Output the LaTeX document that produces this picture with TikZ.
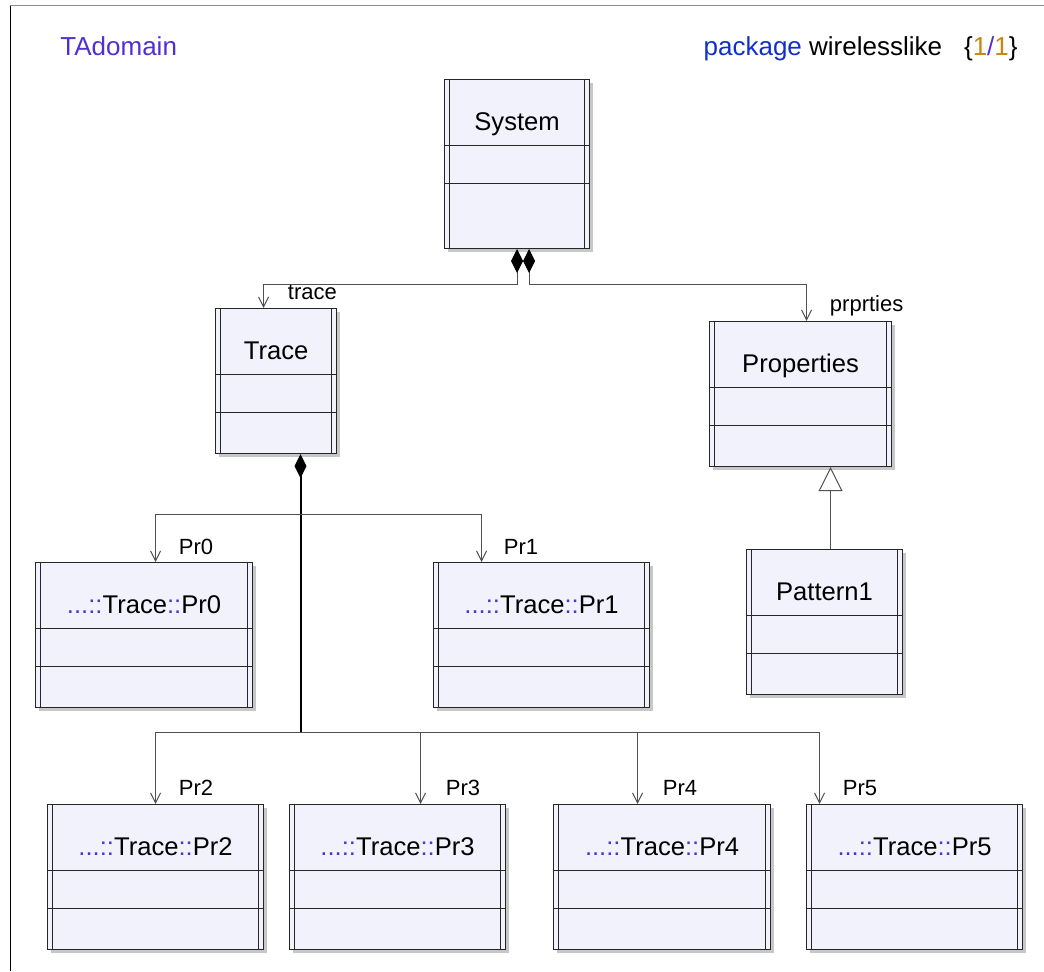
\documentclass[tikz,border=0pt]{standalone}
\usepackage{fontspec}
\setmainfont{Liberation Sans}
\usepackage{xcolor}
\usetikzlibrary{arrows.meta,shadows}

\definecolor{classfill}{RGB}{242,242,253}
\definecolor{nsblue}{RGB}{80,48,208}
\definecolor{kwblue}{RGB}{16,48,200}
\definecolor{pageorange}{RGB}{200,134,10}
\definecolor{linegray}{RGB}{80,80,80}

\begin{document}
\begin{tikzpicture}[>={Straight Barb[length=5pt,width=5pt]}]
 \tikzstyle{umlclass}=[draw=black!85, line width=0.55pt, fill=classfill, inner sep=0pt, anchor=north west,
   font=\fontsize{12.8}{15}\selectfont, text height=25.5pt, text depth=47pt,
   drop shadow={shadow xshift=1.5pt,shadow yshift=-1.5pt,fill=black!22,opacity=1},
   path picture={
     \draw[black!85, line width=0.55pt]
       ([xshift=2.5pt]path picture bounding box.north west) -- ([xshift=2.5pt]path picture bounding box.south west)
       ([xshift=-2.5pt]path picture bounding box.north east) -- ([xshift=-2.5pt]path picture bounding box.south east)
       ([yshift=-33pt]path picture bounding box.north west) -- ([yshift=-33pt]path picture bounding box.north east)
       ([yshift=-52pt]path picture bounding box.north west) -- ([yshift=-52pt]path picture bounding box.north east);
   }]
 \tikzstyle{assoc}=[draw=linegray, line width=0.5pt, ->]
 \tikzstyle{compose}=[assoc, {Diamond[length=12pt,width=6pt,color=black]}->]
 \tikzstyle{inherit}=[draw=linegray, line width=0.5pt, -{Triangle[open,length=12pt,width=12pt]}]
 \tikzstyle{rolename}=[inner sep=0pt, anchor=base west, font=\fontsize{11}{13}\selectfont]
 \newcommand{\nsp}{\textcolor{nsblue}{::}}

 \useasboundingbox (0,0) rectangle (522pt,-485.5pt);
 % page frame
 \draw[black!45, line width=0.6pt] (5pt,-2.8pt) -- (522pt,-2.8pt);
 \draw[black, line width=0.6pt] (5.3pt,-2.8pt) -- (5.3pt,-485.5pt);

 \node (domain) at (30pt,-27.5pt) [anchor=base west, inner sep=0pt, font=\fontsize{13}{15}\selectfont, text=nsblue] {TAdomain};
 \node (pkg) at (509pt,-27.5pt) [anchor=base east, inner sep=0pt, font=\fontsize{13}{15}\selectfont]
   {\textcolor{kwblue}{package} wirelesslike\hspace{11pt}\{\textcolor{pageorange}{1}\textcolor{nsblue}{/}\textcolor{pageorange}{1}\}};

 \node (sys) at (222pt,-39.5pt) [umlclass, minimum width=72.5pt, text depth=59pt] {System};
 \node (trace) at (107.5pt,-154pt) [umlclass, minimum width=60.5pt] {Trace};
 \node (props) at (354.5pt,-160.5pt) [umlclass, minimum width=91pt] {Properties};
 \node (pat) at (373pt,-274.5pt) [umlclass, minimum width=78pt] {Pattern1};

 \node (pr0) at (17.5pt,-281pt) [umlclass, minimum width=108.5pt] {\textcolor{nsblue}{...}\nsp Trace\nsp Pr0};
 \node (pr1) at (216.5pt,-281pt) [umlclass, minimum width=108pt] {\textcolor{nsblue}{...}\nsp Trace\nsp Pr1};
 \node (pr2) at (23.5pt,-402pt) [umlclass, minimum width=108pt] {\textcolor{nsblue}{...}\nsp Trace\nsp Pr2};
 \node (pr3) at (144.5pt,-402pt) [umlclass, minimum width=108pt] {\textcolor{nsblue}{...}\nsp Trace\nsp Pr3};
 \node (pr4) at (276.5pt,-402pt) [umlclass, minimum width=108.5pt] {\textcolor{nsblue}{...}\nsp Trace\nsp Pr4};
 \node (pr5) at (403pt,-402pt) [umlclass, minimum width=108pt] {\textcolor{nsblue}{...}\nsp Trace\nsp Pr5};

 % System parts
 \draw [compose] (sys.south) -- ++(0,-17.5pt) -| ([xshift=-6.25pt]trace.north);
 \draw [compose] ([xshift=6pt]sys.south) -- ++(0,-17.5pt) -| ([xshift=3pt]props.north);
 \node (tracerole) at ([xshift=5.75pt,yshift=4.5pt]trace.north) [rolename] {trace};
 \node (propsrole) at ([xshift=14.5pt,yshift=5pt]props.north) [rolename] {prprties};

 \draw [inherit] ([xshift=3pt]pat.north) -- ([xshift=15pt]props.south);

 % Trace parts
 \draw [black, line width=1pt, {Diamond[length=12pt,width=6pt]}-] ([xshift=12.25pt]trace.south) -- ++(0,-139pt) coordinate (lowbus);
 \path ([xshift=12.25pt]trace.south) ++(0,-30pt) coordinate (upbus);
 \draw [assoc] (upbus) -| ([xshift=5.75pt]pr0.north);
 \draw [assoc] (upbus) -| ([xshift=-30pt]pr1.north);
 \draw [assoc] (lowbus) -| (pr2.north);
 \draw [assoc] (lowbus) -| ([xshift=11.5pt]pr3.north);
 \draw [assoc] (lowbus) -| ([xshift=-12.25pt]pr4.north);
 \draw [assoc] (lowbus) -| ([xshift=-47.5pt]pr5.north);

 \node (pr0role) at ([xshift=17.25pt,yshift=4pt]pr0.north) [rolename] {Pr0};
 \node (pr1role) at ([xshift=-19pt,yshift=4pt]pr1.north) [rolename] {Pr1};
 \node (pr2role) at ([xshift=11.5pt,yshift=4.5pt]pr2.north) [rolename] {Pr2};
 \node (pr3role) at ([xshift=24pt,yshift=4.5pt]pr3.north) [rolename] {Pr3};
 \node (pr4role) at ([xshift=0.25pt,yshift=4.5pt]pr4.north) [rolename] {Pr4};
 \node (pr5role) at ([xshift=-36pt,yshift=4.5pt]pr5.north) [rolename] {Pr5};

\end{tikzpicture}
\end{document}
